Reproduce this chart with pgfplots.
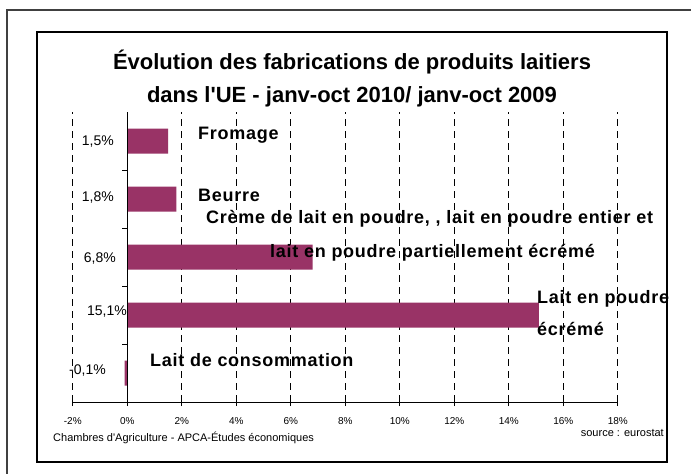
\documentclass[border=0pt]{standalone}
\usepackage{fontspec}
\setmainfont{Liberation Sans}
\usepackage{pgfplots}
\pgfplotsset{compat=1.18}
\definecolor{barcol}{RGB}{153,51,102}
\begin{document}
\begin{tikzpicture}
\useasboundingbox (0pt,0pt) rectangle (691pt,474pt);
\fill[white] (0pt,0pt) rectangle (691pt,474pt);
% outer frame (partly off page)
\draw[line width=1.2pt, black!75] (7pt,464pt) rectangle (720pt,-30pt);
% inner frame
\draw[line width=2pt, black] (37pt,442pt) rectangle (667pt,12pt);
\begin{axis}[
  at={(72.8pt,72pt)}, anchor=south west,
  scale only axis, width=545pt, height=290pt,
  xmin=-2, xmax=18, ymin=-0.5, ymax=4.5,
  axis x line*=bottom, axis y line=none,
  xtick={-2,0,...,18},
  xticklabel={\pgfmathprintnumber[assume math mode=true]{\tick}\%},
  xticklabel style={font=\fontsize{10}{12}\selectfont, yshift=-8pt},
  tick align=outside, major tick length=4pt,
  x axis line style={line width=0.8pt},
  x tick style={line width=0.8pt, black},
  ytick=\empty,
  xmajorgrids,
  major grid style={black, line width=0.7pt, dash pattern=on 7pt off 5pt},
  clip=false,
]
\addplot[xbar, fill=barcol, draw=none, bar width=25pt] coordinates {
  (-0.1,0) (15.1,1) (6.8,2) (1.8,3) (1.5,4)
};
\draw[black, line width=0.8pt] (axis cs:0,-0.5) -- (axis cs:0,4.5);
\pgfplotsinvokeforeach{0.5,1.5,2.5,3.5}{\draw[black, line width=0.8pt] (axis cs:0,#1) -- ++(-5pt,0pt);}
\end{axis}
% title
\node[anchor=base, font=\fontsize{22}{26}\bfseries\selectfont] at (352pt,404pt) {Évolution des fabrications de produits laitiers};
\node[anchor=base, font=\fontsize{22}{26}\bfseries\selectfont] at (352pt,371pt) {dans l\textquotesingle UE - janv-oct 2010/ janv-oct 2009};
% category labels
\begin{scope}[every node/.style={anchor=base west, inner sep=0pt, font=\fontsize{18}{20}\bfseries\selectfont\addfontfeatures{LetterSpace=4}}]
\node at (198pt,334pt) {Fromage};
\node at (198pt,272pt) {Beurre};
\node at (206pt,250pt) {Crème de lait en poudre, , lait en poudre entier et};
\node at (270pt,216pt) {lait en poudre partiellement écrémé};
\node at (537pt,170pt) {Lait en poudre};
\node at (537pt,138pt) {écrémé};
\node at (150pt,107pt) {Lait de consommation};
\end{scope}
% value labels
\begin{scope}[every node/.style={anchor=east, inner sep=0pt, font=\fontsize{14}{16}\selectfont}]
\node at (114pt,332pt) {1,5\%};
\node at (114pt,276pt) {1,8\%};
\node at (116pt,215pt) {6,8\%};
\node at (127pt,162pt) {15,1\%};
\node at (106pt,103pt) {-0,1\%};
\end{scope}
% footer
\node[anchor=west, inner sep=0pt, font=\fontsize{11}{13}\selectfont] at (53pt,36pt) {Chambres d\textquotesingle Agriculture - APCA-Études économiques};
\node[anchor=east, inner sep=0pt, font=\fontsize{11}{13}\selectfont] at (664pt,41pt) {source : eurostat};
\end{tikzpicture}
\end{document}
